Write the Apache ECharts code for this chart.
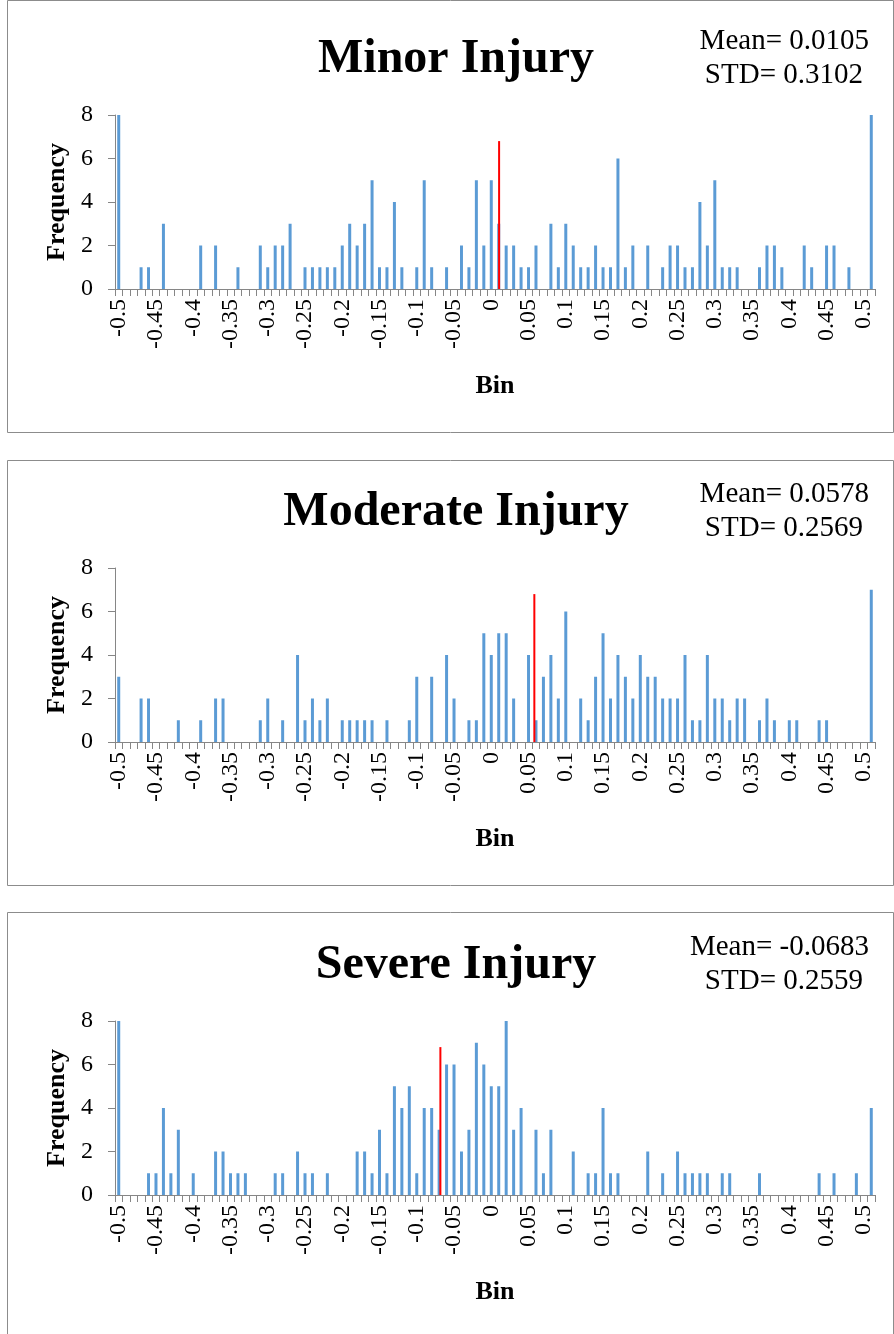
<!DOCTYPE html>
<html>
<head>
<meta charset="utf-8">
<title>Injury residual histograms</title>
<script src="https://cdn.jsdelivr.net/npm/echarts@6/dist/echarts.min.js"></script>
<style>
  html, body { margin: 0; padding: 0; background: #ffffff; }
  #chart { width: 894px; height: 1334px; }
</style>
</head>
<body>
<div id="chart"></div>
<script>
// Histogram bins (upper edges, step 0.01) plus the overflow bin
const bins = [
  '-0.5','-0.49','-0.48','-0.47','-0.46','-0.45','-0.44','-0.43','-0.42','-0.41',
  '-0.4','-0.39','-0.38','-0.37','-0.36','-0.35','-0.34','-0.33','-0.32','-0.31',
  '-0.3','-0.29','-0.28','-0.27','-0.26','-0.25','-0.24','-0.23','-0.22','-0.21',
  '-0.2','-0.19','-0.18','-0.17','-0.16','-0.15','-0.14','-0.13','-0.12','-0.11',
  '-0.1','-0.09','-0.08','-0.07','-0.06','-0.05','-0.04','-0.03','-0.02','-0.01',
  '0','0.01','0.02','0.03','0.04','0.05','0.06','0.07','0.08','0.09',
  '0.1','0.11','0.12','0.13','0.14','0.15','0.16','0.17','0.18','0.19',
  '0.2','0.21','0.22','0.23','0.24','0.25','0.26','0.27','0.28','0.29',
  '0.3','0.31','0.32','0.33','0.34','0.35','0.36','0.37','0.38','0.39',
  '0.4','0.41','0.42','0.43','0.44','0.45','0.46','0.47','0.48','0.49',
  '0.5','More'
];

// Frequencies per bin
const minorFreq = [
  8,0,0,1,1,0,3,0,0,0,
  0,2,0,2,0,0,1,0,0,2,
  1,2,2,3,0,1,1,1,1,1,
  2,3,2,3,5,1,1,4,1,0,
  1,5,1,0,1,0,2,1,5,2,
  5,3,2,2,1,1,2,0,3,1,
  3,2,1,1,2,1,1,6,1,2,
  0,2,0,1,2,2,1,1,4,2,
  5,1,1,1,0,0,1,2,2,1,
  0,0,2,1,0,2,2,0,1,0,
  0,8
];
const moderateFreq = [
  3,0,0,2,2,0,0,0,1,0,
  0,1,0,2,2,0,0,0,0,1,
  2,0,1,0,4,1,2,1,2,0,
  1,1,1,1,1,0,1,0,0,1,
  3,0,3,0,4,2,0,1,1,5,
  4,5,5,2,0,4,1,3,4,2,
  6,0,2,1,3,5,2,4,3,2,
  4,3,3,2,2,2,4,1,1,4,
  2,2,1,2,2,0,1,2,1,0,
  1,1,0,0,1,1,0,0,0,0,
  0,7
];
const severeFreq = [
  8,0,0,0,1,1,4,1,3,0,
  1,0,0,2,2,1,1,1,0,0,
  0,1,1,0,2,1,1,0,1,0,
  0,0,2,2,1,3,1,5,4,5,
  1,4,4,3,6,6,2,3,7,6,
  5,5,8,3,4,0,3,1,3,0,
  0,2,0,1,1,4,1,1,0,0,
  0,2,0,1,0,2,1,1,1,1,
  0,1,1,0,0,0,1,0,0,0,
  0,0,0,0,1,0,1,0,0,1,
  0,4
];

const panelTitles = ['Minor Injury', 'Moderate Injury', 'Severe Injury'];
const means = [0.0105, 0.0578, -0.0683];
const meanText = ['0.0105', '0.0578', '-0.0683'];
const stds = ['0.3102', '0.2569', '0.2559'];
const meanLineTop = 6.8;
const yTicks = { min: 0, max: 8, interval: 2 };

const series = [minorFreq, moderateFreq, severeFreq];

// Layout of the three stacked panels
const panelTop = [0, 460, 912];
const panelBottom = [432, 885, 1345];
const gridTop = [115, 568, 1021];
const gridHeight = 174;

const serif = '"Liberation Serif", "Times New Roman", serif';
const axisGray = '#868686';

const grids = [], xAxes = [], yAxes = [], seriesList = [], graphics = [];

for (let p = 0; p < 3; p++) {
  grids.push({ left: 115, right: 19, top: gridTop[p], height: gridHeight, containLabel: false });

  // category axis for bars
  xAxes.push({
    type: 'category', gridIndex: p, data: bins, boundaryGap: true,
    axisLine: { show: true, lineStyle: { color: axisGray, width: 1 } },
    axisTick: { show: true, interval: 0, length: 7, lineStyle: { color: axisGray } },
    axisLabel: { interval: 4, rotate: 90, margin: 10, color: '#000', fontFamily: serif, fontSize: 24 },
    name: 'Bin', nameLocation: 'middle', nameGap: 84,
    nameTextStyle: { fontFamily: serif, fontWeight: 'bold', fontSize: 26, color: '#000' }
  });
  // value axis matching the bin centres, used for the mean line
  xAxes.push({
    type: 'value', gridIndex: p, min: -0.505, max: 0.515, show: false,
    splitLine: { show: false }
  });

  yAxes.push({
    type: 'value', gridIndex: p, min: yTicks.min, max: yTicks.max, interval: yTicks.interval,
    splitLine: { show: false },
    axisLine: { show: true, onZero: false, lineStyle: { color: axisGray, width: 1 } },
    axisTick: { show: true, length: 7, lineStyle: { color: axisGray } },
    axisLabel: { margin: 22, color: '#000', fontFamily: serif, fontSize: 24 },
    name: 'Frequency', nameLocation: 'middle', nameRotate: 90, nameGap: 44,
    nameTextStyle: { fontFamily: serif, fontWeight: 'bold', fontSize: 26, color: '#000' }
  });

  seriesList.push({
    type: 'bar', xAxisIndex: p * 2, yAxisIndex: p, data: series[p],
    barWidth: 3, itemStyle: { color: '#5B9BD5' }, silent: true, animation: false
  });
  seriesList.push({
    type: 'line', xAxisIndex: p * 2 + 1, yAxisIndex: p,
    data: [[means[p], 0], [means[p], meanLineTop]],
    symbol: 'none', lineStyle: { color: '#FF0000', width: 2 }, silent: true, animation: false, z: 5
  });

  // panel frame
  graphics.push({
    type: 'rect', silent: true, z: -1,
    shape: { x: 7.5, y: panelTop[p] + 0.5, width: 886, height: panelBottom[p] - panelTop[p] },
    style: { fill: 'none', stroke: '#8c8c8c', lineWidth: 1 }
  });
  // panel heading
  graphics.push({
    type: 'text', silent: true, x: 456, y: gridTop[p] - 55,
    style: { text: panelTitles[p], font: 'bold 48px ' + serif, fill: '#000', align: 'center', verticalAlign: 'middle' }
  });
  // summary statistics
  graphics.push({
    type: 'text', silent: true, x: 869, y: gridTop[p] - 74,
    style: { text: 'Mean= ' + meanText[p], font: '29px ' + serif, fill: '#000', align: 'right', verticalAlign: 'middle' }
  });
  graphics.push({
    type: 'text', silent: true, x: 863, y: gridTop[p] - 40,
    style: { text: 'STD= ' + stds[p], font: '29px ' + serif, fill: '#000', align: 'right', verticalAlign: 'middle' }
  });
}

const chart = echarts.init(document.getElementById('chart'), null, { renderer: 'canvas' });
chart.setOption({
  backgroundColor: '#ffffff',
  animation: false,
  grid: grids,
  xAxis: xAxes,
  yAxis: yAxes,
  series: seriesList,
  graphic: graphics
});
</script>
</body>
</html>
